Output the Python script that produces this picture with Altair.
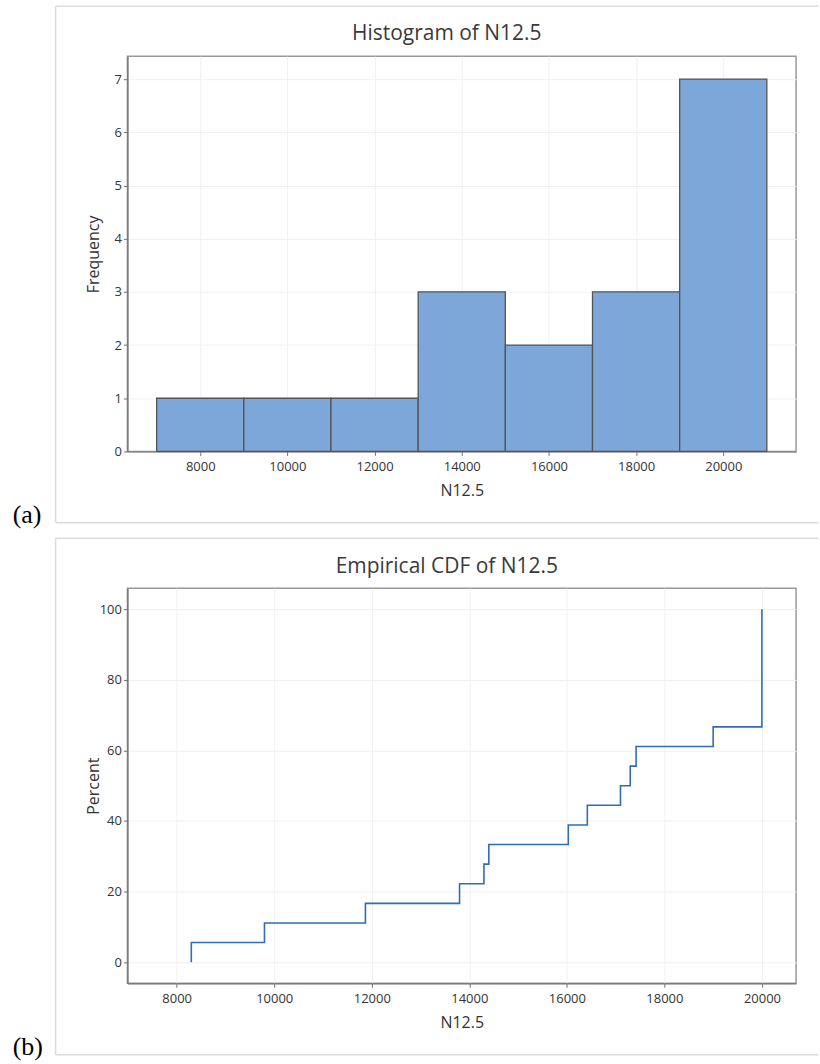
import altair as alt
import pandas as pd

# Observations of N12.5 (18 values)
n125 = [8300, 9800, 11870, 13800, 14300, 14400, 16030, 16420, 17100,
        17300, 17420, 19000, 20000, 20000, 20000, 20000, 20000, 20000]

# Histogram binning
bin_extent = [7000, 21000]
bin_step = 2000

# Axis ticks
n_ticks = [8000, 10000, 12000, 14000, 16000, 18000, 20000]
freq_ticks = [0, 1, 2, 3, 4, 5, 6, 7]
pct_ticks = [0, 20, 40, 60, 80, 100]

FONT = "Open Sans"
W, H = 670, 396
LEFT, TOP = 126.7, 54  # where the first plot area sits on the page
TAG_X = -115           # panel letter, relative to plot area

raw = pd.DataFrame({"n": n125})

# Empirical CDF: step points (value, cumulative percent), starting from 0
vals = sorted(n125)
uniq = sorted(set(vals))
ecdf_x = [uniq[0]] + uniq
ecdf_y = [0.0] + [100.0 * sum(v <= u for v in vals) / len(vals) for u in uniq]
ecdf = pd.DataFrame({"n": ecdf_x, "pct": ecdf_y, "i": list(range(len(ecdf_x)))})

one = pd.DataFrame({"k": [0]})

BX0, BX1, BY0, BY1 = -72, 820 - LEFT - 1, -50, 467.5


def panel_border():
    base = alt.Chart(one).mark_rule(color="#dcdcdc", strokeWidth=1.5)
    top = base.encode(x=alt.value(BX0), x2=alt.value(BX1), y=alt.value(BY0))
    bottom = base.encode(x=alt.value(BX0), x2=alt.value(BX1), y=alt.value(BY1))
    left = base.encode(x=alt.value(BX0), y=alt.value(BY0), y2=alt.value(BY1))
    return [top, bottom, left]


def panel_tag(tag):
    return alt.Chart(one).mark_text(
        text=tag, font="Liberation Serif", fontSize=26, align="left",
        baseline="alphabetic", color="black"
    ).encode(x=alt.value(TAG_X), y=alt.value(468))


def panel_title(text, rise):
    return alt.Chart(one).mark_text(
        text=text, font=FONT, fontSize=21, align="center",
        baseline="alphabetic", color="#3a3a3a"
    ).encode(x=alt.value(W / 2 - 15), y=alt.value(-rise))


x_axis = dict(values=n_ticks, format="d", title="N12.5", titleX=W / 2, titleY=39,
              titleBaseline="middle", labelPadding=5)

# (a) histogram
hist_x = alt.Scale(domain=[6330, 21670], nice=False, zero=False)
hist_y = alt.Scale(domain=[0, 7.43], nice=False, zero=False)

bars = alt.Chart(raw).transform_bin(
    ["b0", "b1"], "n", bin=alt.Bin(extent=bin_extent, step=bin_step, nice=False)
).transform_aggregate(
    freq="count()", groupby=["b0", "b1"]
).transform_calculate(
    base="0"
).mark_bar(fill="#7DA7D9", stroke="#545454", strokeWidth=1.3).encode(
    x=alt.X("b0:Q", scale=hist_x, axis=alt.Axis(**x_axis)),
    x2="b1:Q",
    y=alt.Y("freq:Q", scale=hist_y, stack=None,
            axis=alt.Axis(values=freq_ticks, title="Frequency", titleX=-34,
                          titleY=H / 2, titleBaseline="middle")),
    y2="base:Q",
)

panel_a = alt.layer(
    *panel_border(), bars, panel_tag("(a)"), panel_title("Histogram of N12.5", 16)
).properties(width=W, height=H)

# (b) empirical CDF
cdf_x = alt.Scale(domain=[6990, 20700], nice=False, zero=False)
cdf_y = alt.Scale(domain=[-6, 106], nice=False, zero=False)

steps = alt.Chart(ecdf).mark_line(
    interpolate="step-after", color="#2F6EB5", strokeWidth=1.6
).encode(
    x=alt.X("n:Q", scale=cdf_x, axis=alt.Axis(**x_axis)),
    y=alt.Y("pct:Q", scale=cdf_y,
            axis=alt.Axis(values=pct_ticks, title="Percent", titleX=-34,
                          titleY=H / 2, titleBaseline="middle")),
    order="i:Q",
)

panel_b = alt.layer(
    *panel_border(), steps, panel_tag("(b)"), panel_title("Empirical CDF of N12.5", 15)
).properties(width=W, height=H)

chart = alt.vconcat(panel_a, panel_b, spacing=137, bounds="flush").properties(
    padding={"left": LEFT + TAG_X, "top": TOP + BY0 - 0.75, "right": 0, "bottom": 0},
    background="white",
).configure_view(
    stroke="#999999", strokeWidth=1.5
).configure_axis(
    grid=True, gridColor="#f0f0f0", gridWidth=1,
    domainColor="#707070", domainWidth=1.3,
    tickColor="#707070", tickSize=4,
    labelFont=FONT, labelFontSize=13, labelColor="#333333",
    titleFont=FONT, titleFontSize=16, titleColor="#333333", titleFontWeight="normal",
)

chart.save("out.html", embed_options={"renderer": "svg", "actions": False})
